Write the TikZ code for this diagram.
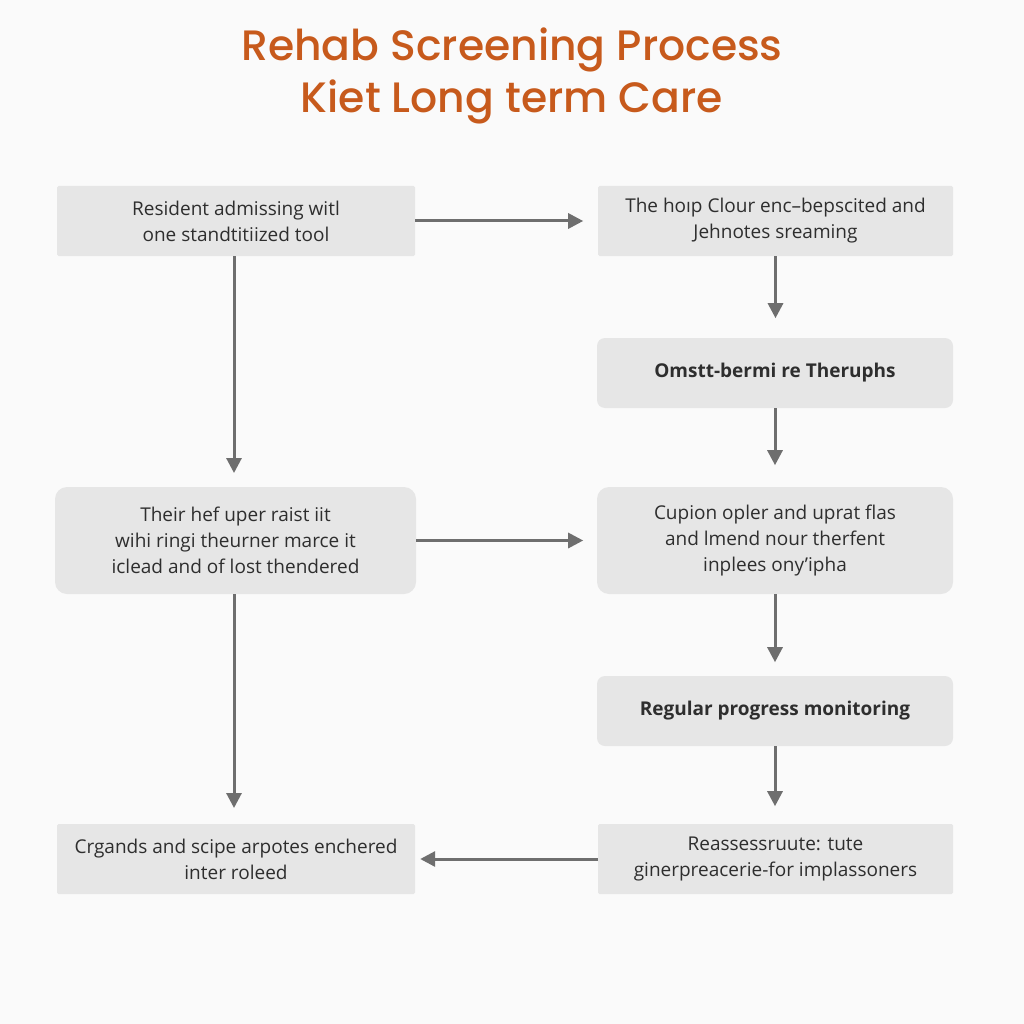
\documentclass[tikz,border=0pt]{standalone}
\usepackage{fontspec}
\setmainfont{Open Sans}
\newfontfamily\titlefont{Poppins}[UprightFont=* Medium]
\usetikzlibrary{arrows.meta}
\definecolor{boxfill}{HTML}{E6E6E6}
\definecolor{arrowgray}{HTML}{6E6E6E}
\definecolor{titleorange}{HTML}{C75A1C}
\definecolor{txtgray}{HTML}{2E2E2E}
\definecolor{bg}{HTML}{FAFAFA}
\begin{document}
\begin{tikzpicture}[x=1pt,y=-1pt,
  box/.style={fill=boxfill,draw=none,align=center,text=txtgray,inner sep=0pt,
    font=\fontsize{19}{26}\selectfont},
  sqbox/.style={box,rounded corners=1.5pt},
  rbox/.style={box,rounded corners=8pt},
  flow/.style={draw=arrowgray,line width=3pt,-{Triangle[length=15pt,width=15pt]}}
]
\fill[bg] (0,0) rectangle (1024,1024);
\useasboundingbox (0,0) rectangle (1024,1024);
\node[text=titleorange,font=\titlefont\fontsize{42.5}{52}\selectfont,align=center] (title) at (512,76) {Rehab Screening Process\\Kiet Long term Care};

\node[sqbox,minimum width=358pt,minimum height=70pt] (a) at (236,221) {Resident admissing witl\\one standtitiized tool};
\node[sqbox,minimum width=355pt,minimum height=70pt] (b) at (775.5,221) {The hoıp Clour enc–bepscited and\\Jehnotes sreaming};
\node[rbox,minimum width=356pt,minimum height=70pt,font=\fontsize{19}{26}\selectfont\bfseries] (c) at (775,373) {Omstt-bermi re Theruphs};
\node[rbox,rounded corners=12pt,minimum width=361pt,minimum height=107pt] (d) at (235.5,540.5) {Their hef uper raist iit\\wihi ringi theurner marce it\\iclead and of lost thendered};
\node[rbox,rounded corners=12pt,minimum width=356pt,minimum height=107pt] (e) at (775,540.5) {Cupion opler and uprat flas\\and lmend nour therfent\\inplees ony'ipha};
\node[rbox,minimum width=356pt,minimum height=70pt,font=\fontsize{19}{26}\selectfont\bfseries] (f) at (775,711) {Regular progress monitoring};
\node[sqbox,minimum width=358pt,minimum height=70pt] (g) at (236,859) {Crgands and scipe arpotes enchered\\inter roleed};
\node[sqbox,minimum width=355pt,minimum height=70pt] (h) at (775.5,859) {Reassessruute: tute\\ginerpreacerie-for implassoners};

\draw[flow] (a.east) -- ++(168,0);
\draw[flow] (a.south -| 234,0) -- (234,473);
\draw[flow] (b.south) -- ++(0,62);
\draw[flow] (c.south) -- ++(0,57);
\draw[flow] (d.east) -- ++(167,0);
\draw[flow] (d.south -| 234,0) -- (234,808);
\draw[flow] (e.south) -- ++(0,68);
\draw[flow] (f.south) -- ++(0,60);
\draw[flow,shorten >=5pt] (h.west) -- (g.east);
\end{tikzpicture}
\end{document}
